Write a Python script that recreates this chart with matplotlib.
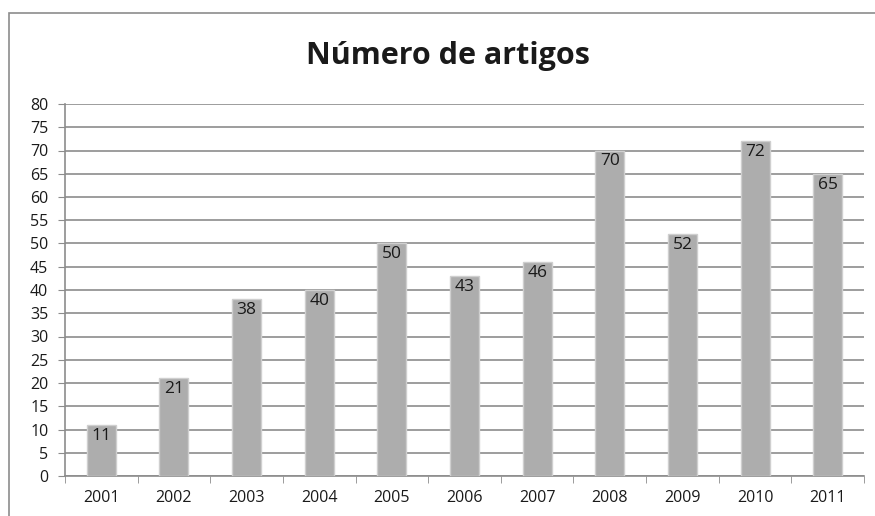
import matplotlib
matplotlib.use("Agg")
import matplotlib.pyplot as plt
from matplotlib.patches import Rectangle

years = ["2001", "2002", "2003", "2004", "2005", "2006",
         "2007", "2008", "2009", "2010", "2011"]
artigos = [11, 21, 38, 40, 50, 43, 46, 70, 52, 72, 65]
yticks = list(range(0, 85, 5))

plt.rcParams['font.family'] = ['Open Sans', 'DejaVu Sans']

fig = plt.figure(figsize=(8.75, 5.16), dpi=100)
# outer chart border (right/bottom edges run off the image)
fig.patches.append(Rectangle((9 / 875, -0.1), 1.0, 1 - 13 / 516 + 0.1,
                             transform=fig.transFigure, fill=False,
                             edgecolor='#8c8c8c', linewidth=1.2))

ax = fig.add_axes([65 / 875, 1 - 476 / 516, (864 - 65) / 875, (476 - 104) / 516])
x = range(len(years))
bars = ax.bar(x, artigos, width=0.4, color='#adadad', edgecolor='#cfcfcf',
              linewidth=1, zorder=3)
for xi, v in zip(x, artigos):
    ax.annotate(str(v), (xi, v), xytext=(0, -2), textcoords='offset points',
                ha='center', va='top', fontsize=12.5, color='#1a1a1a', zorder=4)

ax.set_xlim(-0.5, len(years) - 0.5)
ax.set_ylim(0, 80)
ax.set_yticks(yticks)
ax.tick_params(axis='y', length=5, color='#8c8c8c', labelsize=11.5, pad=7,
               labelcolor='#1a1a1a')
ax.set_xticks(list(x))
ax.set_xticklabels(years)
ax.set_xticks([i - 0.5 for i in range(len(years) + 1)], minor=True)
ax.tick_params(axis='x', which='major', length=0, labelsize=11.5, pad=10,
               labelcolor='#1a1a1a')
ax.tick_params(axis='x', which='minor', length=5, color='#8c8c8c')
ax.grid(axis='y', color='#8c8c8c', linewidth=1.2, zorder=0)
for s in ['top', 'right']:
    ax.spines[s].set_visible(False)
for s in ['left', 'bottom']:
    ax.spines[s].set_color('#8c8c8c')
    ax.spines[s].set_linewidth(1.2)

fig.text(448 / 875, 1 - 56 / 516, "Número de artigos", ha='center', va='center',
         fontsize=22, fontweight='bold', color='#1a1a1a')

fig.savefig("out.png", dpi=100, facecolor='white')
